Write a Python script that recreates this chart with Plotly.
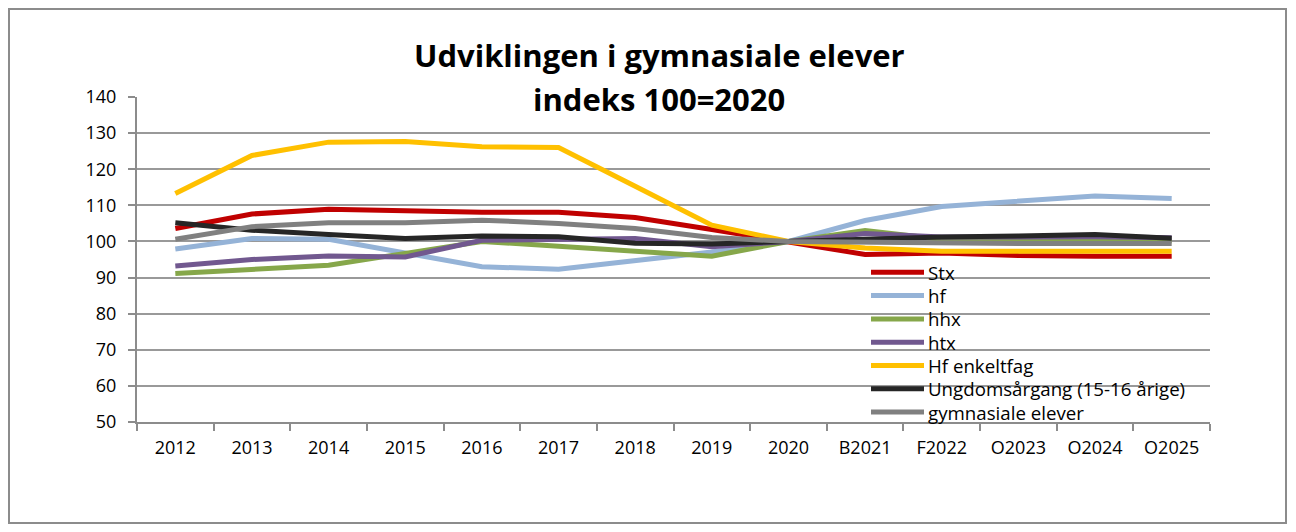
import plotly.graph_objects as go

categories = ["2012", "2013", "2014", "2015", "2016", "2017", "2018", "2019", "2020",
              "B2021", "F2022", "O2023", "O2024", "O2025"]

stx = [103.6, 107.6, 108.9, 108.5, 108.1, 108.1, 106.6, 103.3, 100.0, 96.4, 96.8, 96.1, 95.9, 95.9]
hf = [97.9, 100.8, 100.6, 96.7, 93.0, 92.3, 94.8, 97.1, 100.0, 105.8, 109.7, 111.2, 112.6, 111.9]
hhx = [91.1, 92.2, 93.4, 96.7, 100.0, 98.7, 97.3, 95.9, 100.0, 103.0, 100.6, 100.4, 100.5, 100.2]
htx = [93.2, 95.0, 96.0, 95.7, 100.3, 100.6, 100.8, 98.5, 100.0, 102.2, 101.2, 101.2, 101.3, 101.0]
hf_enkeltfag = [113.3, 123.8, 127.5, 127.7, 126.2, 126.0, 115.3, 104.5, 100.0, 98.2, 97.3, 97.3, 97.3, 97.3]
ungdom = [105.2, 103.1, 101.9, 100.8, 101.5, 101.3, 99.5, 99.3, 100.0, 100.7, 101.2, 101.5, 101.9, 100.9]
gymnasiale = [100.6, 104.1, 105.2, 105.2, 105.9, 105.0, 103.6, 101.1, 100.0, 99.8, 99.4, 99.4, 99.4, 99.4]

series_names = ["Stx", "hf", "hhx", "htx", "Hf enkeltfag", "Ungdomsårgang (15-16 årige)", "gymnasiale elever"]
series_values = [stx, hf, hhx, htx, hf_enkeltfag, ungdom, gymnasiale]
colors = ["#C00000", "#95B3D7", "#86A74A", "#71588F", "#FFC000", "#262626", "#808080"]

title_line1 = "Udviklingen i gymnasiale elever"
title_line2 = "indeks 100=2020"

W, H = 1296, 532
L, R, T, B = 137, 1210, 97, 422
FONT = "'Open Sans', Lato, sans-serif"

fig = go.Figure()
for name, vals, col in zip(series_names, series_values, colors):
    fig.add_trace(go.Scatter(x=categories, y=vals, name=name, mode="lines",
                             line=dict(color=col, width=5), showlegend=False))

pw = R - L
ph = B - T


def px_x(x):
    return (x - L) / pw


def px_y(y):
    return (B - y) / ph


shapes = [dict(type="rect", xref="paper", yref="paper",
               x0=px_x(9), x1=px_x(1286), y0=px_y(523), y1=px_y(9),
               line=dict(color="#8c8c8c", width=2), fillcolor="rgba(0,0,0,0)", layer="below")]

annotations = [
    dict(text="<b>" + title_line1 + "</b>", xref="paper", yref="paper",
         x=px_x(659), y=px_y(55), xanchor="center", yanchor="middle", showarrow=False,
         font=dict(family=FONT, size=31, color="black"), bgcolor="white"),
    dict(text="<b>" + title_line2 + "</b>", xref="paper", yref="paper",
         x=px_x(659), y=px_y(99), xanchor="center", yanchor="middle", showarrow=False,
         font=dict(family=FONT, size=31, color="black"), bgcolor="white"),
]

# legend (drawn manually to match the tight row spacing of the original)
leg_top = 272.3
leg_step = 23.3
for i, (name, col) in enumerate(zip(series_names, colors)):
    yc = leg_top + i * leg_step
    shapes.append(dict(type="line", xref="paper", yref="paper",
                       x0=px_x(871), x1=px_x(924), y0=px_y(yc), y1=px_y(yc),
                       line=dict(color=col, width=5), layer="above"))
    annotations.append(dict(text=name, xref="paper", yref="paper",
                            x=px_x(927), y=px_y(yc), xanchor="left", yanchor="middle",
                            showarrow=False, borderpad=0,
                            font=dict(family=FONT, size=18.7, color="black")))

fig.update_layout(
    width=W, height=H,
    margin=dict(l=L, r=W - R, t=T, b=H - B, pad=0),
    paper_bgcolor="white", plot_bgcolor="white",
    font=dict(family=FONT, size=18, color="black"),
    showlegend=False,
    xaxis=dict(type="category", showgrid=False, showline=True, linecolor="#8c8c8c",
               linewidth=2, ticks="outside", ticklen=7, tickwidth=2, tickcolor="#8c8c8c",
               tickson="boundaries", tickfont=dict(family=FONT, size=18), range=[-0.5, 13.5],
               zeroline=False, ticklabelstandoff=8),
    yaxis=dict(range=[50, 140], dtick=10, showgrid=True, gridcolor="#999999", gridwidth=2,
               showline=True, linecolor="#8c8c8c", linewidth=2, ticks="outside",
               ticklen=7, tickwidth=2, tickcolor="#8c8c8c", tickfont=dict(family=FONT, size=18),
               zeroline=False, ticklabelstandoff=8),
    shapes=shapes,
    annotations=annotations,
)

fig.write_html("out.html", config={"displayModeBar": False},
               post_script="document.body.style.margin='0';document.body.style.overflow='hidden';")
